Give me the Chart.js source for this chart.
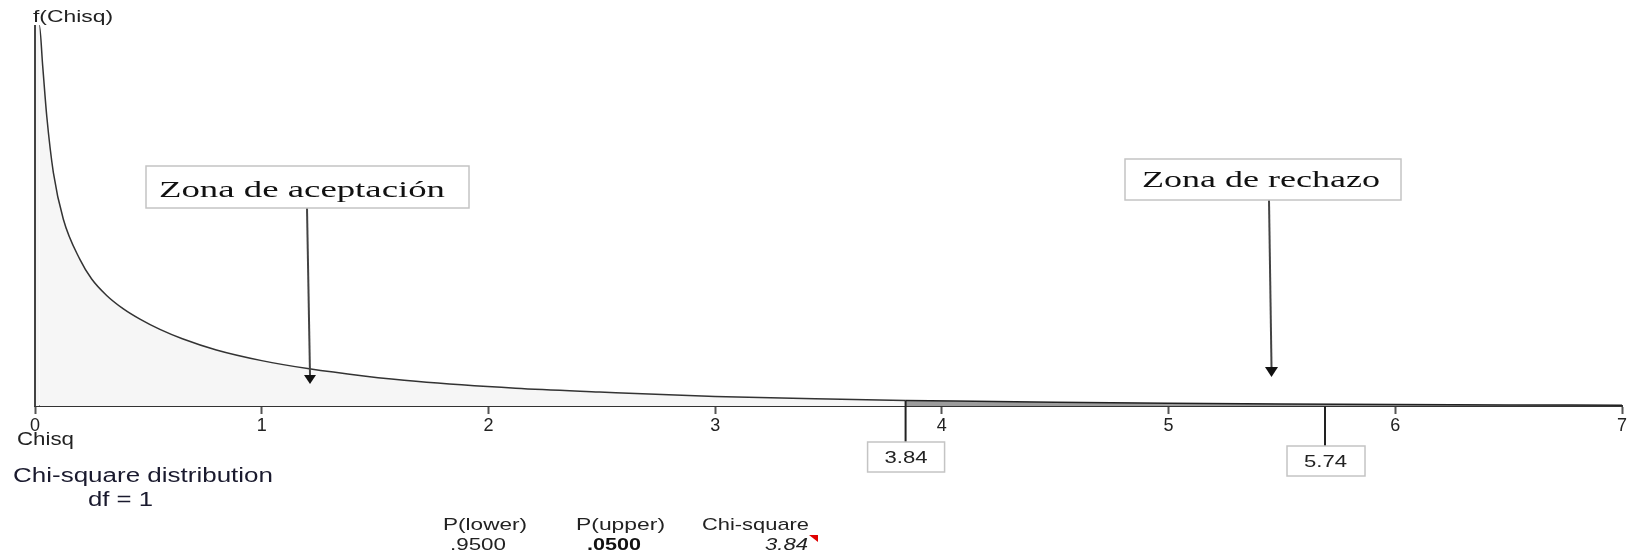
<!DOCTYPE html>
<html>
<head>
<meta charset="utf-8">
<script src="https://cdn.jsdelivr.net/npm/chart.js@4.4.1/dist/chart.umd.min.js"></script>
<style>
  html, body { margin: 0; padding: 0; background: #fff; }
  #wrap { width: 1631px; height: 554px; }
</style>
</head>
<body>
<div id="wrap"><canvas id="chiChart" width="1631" height="554"></canvas></div>
<script>
// chi-square df=1 density ----------------------------------------------->
const chisqX = [0, 0.019, 0.034, 0.052, 0.081, 0.125, 0.198, 0.25, 0.316, 0.39, 0.463, 0.551, 0.65, 0.80, 1.0, 1.21, 1.45, 1.68, 2.12, 2.49, 3.0, 3.5, 3.84, 4.5, 5.0, 5.5, 6.0, 6.5, 7.0];
const density = [2.04, 2.04, 1.82, 1.55, 1.25, 1.00, 0.785, 0.68, 0.592, 0.52, 0.465, 0.41, 0.36, 0.30, 0.243, 0.199, 0.161, 0.132, 0.095, 0.075, 0.051, 0.037, 0.030, 0.020, 0.015, 0.011, 0.008, 0.006, 0.0045];
const xTicks = [0, 1, 2, 3, 4, 5, 6, 7];

const criticalValue = 3.84;   // boundary of the two zones
const secondMark = 5.69;      // where the 5.74 box sits on the axis
const secondMarkLabel = '5.74';

const probLabels = ['P(lower)', 'P(upper)', 'Chi-square'];
const probValues = ['.9500', '.0500', '3.84'];

// split the curve into the two zones
const acceptPts = [];
const rejectPts = [];
for (let i = 0; i < chisqX.length; i++) {
    const p = { x: chisqX[i], y: density[i] };
    if (chisqX[i] <= criticalValue) acceptPts.push(p);
    if (chisqX[i] >= criticalValue) rejectPts.push(p);
}

// draw text squeezed/stretched to a width, like the stretched original
function stretchText(ctx, txt, x, base, font, width, color) {
    ctx.save();
    ctx.font = font;
    ctx.fillStyle = color || '#222';
    ctx.textAlign = 'left';
    ctx.textBaseline = 'alphabetic';
    const w = ctx.measureText(txt).width;
    ctx.translate(x, base);
    ctx.scale(width / w, 1);
    ctx.fillText(txt, 0, 0);
    ctx.restore();
}

function arrow(ctx, x1, y1, x2, y2, headW, headH) {
    ctx.save();
    ctx.strokeStyle = '#444';
    ctx.lineWidth = 2;
    ctx.beginPath();
    ctx.moveTo(x1, y1);
    ctx.lineTo(x2, y2 - headH);
    ctx.stroke();
    ctx.fillStyle = '#111';
    ctx.beginPath();
    ctx.moveTo(x2 - headW / 2, y2 - headH);
    ctx.lineTo(x2 + headW / 2, y2 - headH);
    ctx.lineTo(x2, y2);
    ctx.closePath();
    ctx.fill();
    ctx.restore();
}

function box(ctx, x, y, w, h) {
    ctx.save();
    ctx.fillStyle = '#fff';
    ctx.fillRect(x, y, w, h);
    ctx.strokeStyle = '#c4c4c4';
    ctx.lineWidth = 1.5;
    ctx.strokeRect(x, y, w, h);
    ctx.restore();
}

const SANS = '"Liberation Sans", Arial, sans-serif';
const SERIF = '"Liberation Serif", "Times New Roman", serif';

const extras = {
    id: 'extras',
    afterDraw(chart) {
        const ctx = chart.ctx;
        const area = chart.chartArea;
        const xs = chart.scales.x;
        const ys = chart.scales.y;

        // y axis line
        ctx.save();
        ctx.strokeStyle = '#444';
        ctx.lineWidth = 2;
        ctx.beginPath();
        ctx.moveTo(area.left, area.top);
        ctx.lineTo(area.left, area.bottom);
        ctx.stroke();
        ctx.restore();

        stretchText(ctx, 'f(Chisq)', 33, 22, '17px ' + SANS, 80);
        stretchText(ctx, 'Chisq', 17, 445, '18px ' + SANS, 57);

        // critical value marker
        const cx = xs.getPixelForValue(criticalValue);
        const cy = ys.getPixelForValue(density[chisqX.indexOf(criticalValue)]);
        ctx.save();
        ctx.strokeStyle = '#222';
        ctx.lineWidth = 2;
        ctx.beginPath();
        ctx.moveTo(cx, cy);
        ctx.lineTo(cx, 442);
        ctx.stroke();
        ctx.restore();
        box(ctx, cx - 38, 442, 77, 30);
        stretchText(ctx, String(criticalValue), cx - 21, 463, '17px ' + SANS, 43);

        const mx = xs.getPixelForValue(secondMark);
        ctx.save();
        ctx.strokeStyle = '#222';
        ctx.lineWidth = 2;
        ctx.beginPath();
        ctx.moveTo(mx, area.bottom);
        ctx.lineTo(mx, 446);
        ctx.stroke();
        ctx.restore();
        box(ctx, mx - 38, 446, 78, 30);
        stretchText(ctx, secondMarkLabel, mx - 21, 467, '17px ' + SANS, 43);

        // zone labels with arrows
        arrow(ctx, 307, 208, 310, 384, 12, 9);
        box(ctx, 146, 166, 323, 42);
        stretchText(ctx, 'Zona de aceptación', 159, 197, '24px ' + SERIF, 286, '#111');

        arrow(ctx, 1269, 200, 1271.5, 377, 13, 10);
        box(ctx, 1125, 159, 276, 41);
        stretchText(ctx, 'Zona de rechazo', 1142, 187, '24px ' + SERIF, 238, '#111');

        // caption
        stretchText(ctx, 'Chi-square distribution', 13, 482, '20px ' + SANS, 260, '#1a1a2e');
        stretchText(ctx, 'df = 1', 88, 506, '20px ' + SANS, 65, '#1a1a2e');

        // probability table
        stretchText(ctx, probLabels[0], 443, 530, '17px ' + SANS, 84);
        stretchText(ctx, probValues[0], 450, 550, '17px ' + SANS, 56);
        stretchText(ctx, probLabels[1], 576, 530, '17px ' + SANS, 89);
        stretchText(ctx, probValues[1], 587, 550, 'bold 17px ' + SANS, 54, '#111');
        stretchText(ctx, probLabels[2], 702, 530, '17px ' + SANS, 107);
        stretchText(ctx, probValues[2], 765, 550, 'italic 17px ' + SANS, 43);

        // little red comment corner
        ctx.save();
        ctx.fillStyle = '#e00000';
        ctx.beginPath();
        ctx.moveTo(809, 535);
        ctx.lineTo(818, 535);
        ctx.lineTo(818, 542);
        ctx.closePath();
        ctx.fill();
        ctx.restore();
    }
};

const ctx = document.getElementById('chiChart');
const chiChart = new Chart(ctx, {
    type: 'line',
    data: {
        datasets: [
            {
                label: 'aceptación',
                data: acceptPts,
                borderColor: '#333',
                borderWidth: 1.5,
                backgroundColor: '#f6f6f6',
                fill: 'origin',
                pointRadius: 0,
                cubicInterpolationMode: 'monotone',
                segment: {
                    borderColor: c => c.p0DataIndex === 0 ? 'rgba(0,0,0,0)' : '#333'
                }
            },
            {
                label: 'rechazo',
                data: rejectPts,
                borderColor: '#222',
                borderWidth: 1.5,
                backgroundColor: '#9c9c9c',
                fill: 'origin',
                pointRadius: 0,
                cubicInterpolationMode: 'monotone'
            }
        ]
    },
    options: {
        responsive: false,
        animation: false,
        layout: { padding: { left: 35, right: 9, top: 25, bottom: 0 } },
        plugins: {
            legend: { display: false },
            tooltip: { enabled: false }
        },
        scales: {
            x: {
                type: 'linear',
                min: 0,
                max: 7,
                afterFit: s => { s.height = 148; },
                afterBuildTicks: s => { s.ticks = xTicks.map(v => ({ value: v })); },
                grid: {
                    display: true,
                    drawOnChartArea: false,
                    drawTicks: true,
                    tickLength: 8,
                    tickColor: '#555',
                    tickWidth: 2
                },
                border: { display: true, color: '#333', width: 2 },
                ticks: {
                    padding: 1,
                    color: '#222',
                    font: { family: SANS, size: 18 }
                }
            },
            y: {
                display: false,
                min: 0,
                max: 2.04
            }
        }
    },
    plugins: [extras]
});
</script>
</body>
</html>
